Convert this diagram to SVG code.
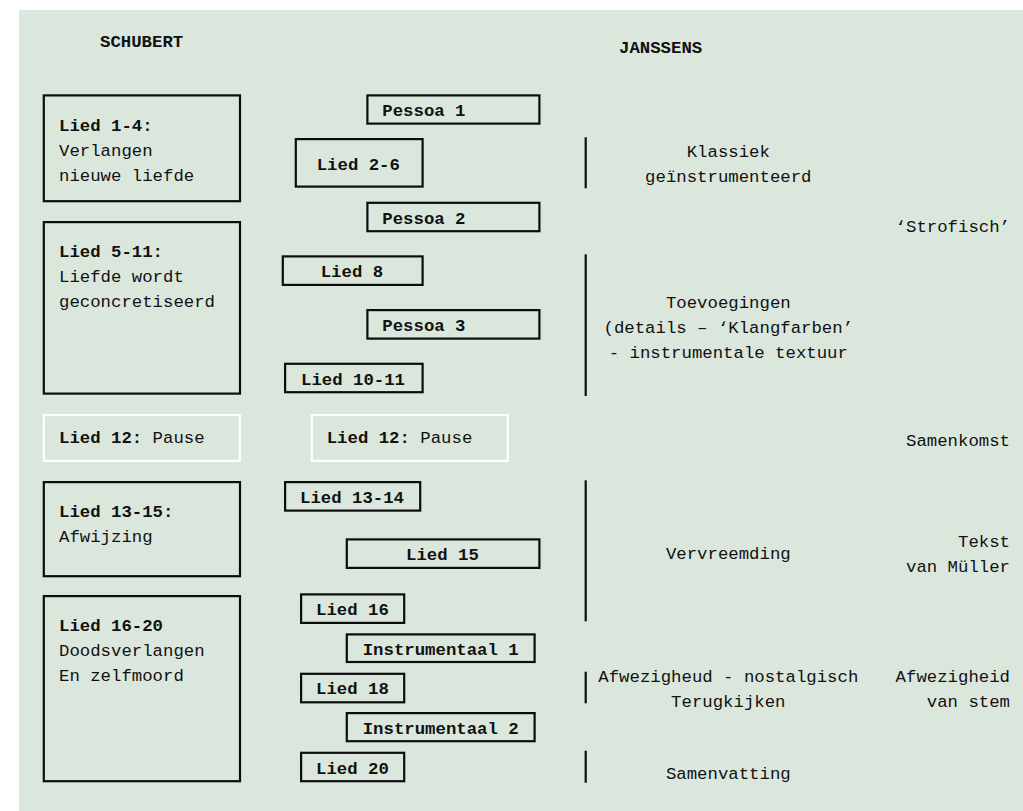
<svg xmlns="http://www.w3.org/2000/svg" width="1023" height="811" viewBox="0 0 1023 811">
<style>
text{font-family:"Liberation Mono","Courier New","DejaVu Sans Mono",monospace;font-size:17.33px;fill:#111}
.b{font-weight:bold}
.c{text-anchor:middle}
.r{text-anchor:end}
.box{fill:none;stroke:#0d0d0d;stroke-width:2.2}
.wbox{fill:none;stroke:#ffffff;stroke-width:2.2}
.bar{stroke:#0d0d0d;stroke-width:2.2}
</style>
<rect x="19" y="10" width="1004" height="801" fill="#dbe7dd"/>
<g id="headers">
<text class="b" x="100" y="47.3">SCHUBERT</text>
<text class="b" x="619" y="52.7">JANSSENS</text>
</g>
<g id="schubert-1-4">
<rect class="box" x="43.8" y="95.4" width="196.2" height="105.8"/>
<text class="b" x="59" y="130.7">Lied 1-4:</text>
<text x="59" y="155.7">Verlangen</text>
<text x="59" y="180.7">nieuwe liefde</text>
</g>
<g id="schubert-5-11">
<rect class="box" x="43.8" y="222.1" width="196.2" height="171.5"/>
<text class="b" x="59" y="256.7">Lied 5-11:</text>
<text x="59" y="281.7">Liefde wordt</text>
<text x="59" y="306.7">geconcretiseerd</text>
</g>
<g id="schubert-12">
<rect class="wbox" x="43.8" y="415.1" width="196" height="45.8"/>
<text x="59" y="443.3"><tspan class="b">Lied 12:</tspan> Pause</text>
</g>
<g id="schubert-13-15">
<rect class="box" x="43.8" y="482.1" width="196.2" height="94.1"/>
<text class="b" x="59" y="516.7">Lied 13-15:</text>
<text x="59" y="541.7">Afwijzing</text>
</g>
<g id="schubert-16-20">
<rect class="box" x="43.8" y="596.1" width="196.2" height="185.1"/>
<text class="b" x="59" y="630.7">Lied 16-20</text>
<text x="59" y="655.7">Doodsverlangen</text>
<text x="59" y="680.7">En zelfmoord</text>
</g>
<g id="pessoa-1">
<rect class="box" x="367.4" y="95.4" width="172" height="28.2"/>
<text class="b" x="382.3" y="116">Pessoa 1</text>
</g>
<g id="lied-2-6">
<rect class="box" x="295.8" y="139.1" width="126.8" height="47.5"/>
<text class="b" x="316.7" y="170">Lied 2-6</text>
</g>
<g id="pessoa-2">
<rect class="box" x="367.4" y="202.8" width="172" height="28.4"/>
<text class="b" x="382.3" y="224">Pessoa 2</text>
</g>
<g id="lied-8">
<rect class="box" x="282.8" y="256.4" width="139.8" height="28.5"/>
<text class="b" x="320.7" y="276.7">Lied 8</text>
</g>
<g id="pessoa-3">
<rect class="box" x="367.4" y="310.1" width="172" height="28.5"/>
<text class="b" x="382.3" y="331">Pessoa 3</text>
</g>
<g id="lied-10-11">
<rect class="box" x="285.1" y="363.8" width="137.5" height="28.4"/>
<text class="b" x="301" y="385">Lied 10-11</text>
</g>
<g id="janssens-12">
<rect class="wbox" x="311.8" y="415.1" width="196" height="45.8"/>
<text x="326.7" y="443.3"><tspan class="b">Lied 12:</tspan> Pause</text>
</g>
<g id="lied-13-14">
<rect class="box" x="285.1" y="482.1" width="135.1" height="28.5"/>
<text class="b" x="300" y="503.3">Lied 13-14</text>
</g>
<g id="lied-15">
<rect class="box" x="346.8" y="539.4" width="192.6" height="28.5"/>
<text class="b" x="406" y="560">Lied 15</text>
</g>
<g id="lied-16">
<rect class="box" x="301.1" y="594.4" width="103.1" height="28.5"/>
<text class="b" x="316" y="615">Lied 16</text>
</g>
<g id="instrumentaal-1">
<rect class="box" x="346.8" y="634.4" width="187.8" height="27.6"/>
<text class="b" x="362.7" y="655">Instrumentaal 1</text>
</g>
<g id="lied-18">
<rect class="box" x="301.1" y="673.8" width="103.1" height="28.5"/>
<text class="b" x="316" y="694">Lied 18</text>
</g>
<g id="instrumentaal-2">
<rect class="box" x="346.8" y="713.1" width="187.8" height="28.1"/>
<text class="b" x="362.7" y="734">Instrumentaal 2</text>
</g>
<g id="lied-20">
<rect class="box" x="301.1" y="752.8" width="103.1" height="28.4"/>
<text class="b" x="316" y="774">Lied 20</text>
</g>
<g id="connectors">
<line class="bar" x1="585.7" y1="137.3" x2="585.7" y2="188.3"/>
<line class="bar" x1="585.7" y1="254.3" x2="585.7" y2="396"/>
<line class="bar" x1="585.7" y1="480.3" x2="585.7" y2="621.3"/>
<line class="bar" x1="585.7" y1="671.7" x2="585.7" y2="703.3"/>
<line class="bar" x1="585.7" y1="750.7" x2="585.7" y2="782.7"/>
</g>
<g id="annotations">
<text class="c" x="728.3" y="157.3">Klassiek</text>
<text class="c" x="728.3" y="182.3">geïnstrumenteerd</text>
<text class="c" x="728.3" y="308.3">Toevoegingen</text>
<text class="c" x="728.3" y="333.3">(details – ‘Klangfarben’</text>
<text class="c" x="728.3" y="358.3">- instrumentale textuur</text>
<text class="c" x="728.3" y="559.3">Vervreemding</text>
<text class="c" x="728.3" y="681.7">Afwezigheud - nostalgisch</text>
<text class="c" x="728.3" y="706.7">Terugkijken</text>
<text class="c" x="728.3" y="779">Samenvatting</text>
<text class="r" x="1010" y="232.3">‘Strofisch’</text>
<text class="r" x="1010" y="445.7">Samenkomst</text>
<text class="r" x="1010" y="546.7">Tekst</text>
<text class="r" x="1010" y="571.7">van Müller</text>
<text class="r" x="1010" y="681.7">Afwezigheid</text>
<text class="r" x="1010" y="706.7">van stem</text>
</g>
</svg>
